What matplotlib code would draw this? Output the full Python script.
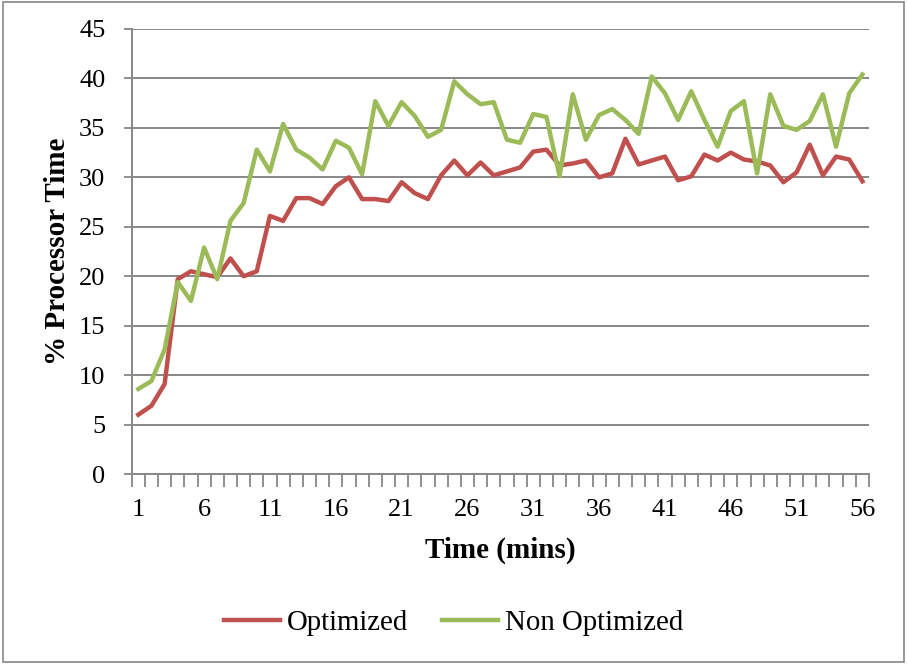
import matplotlib
matplotlib.use("Agg")
from matplotlib import pyplot as plt
from matplotlib.patches import Rectangle
import numpy as np

# minutes 1..56, % processor time per minute
minutes = list(range(1, 57))

optimized = [6.0, 6.9, 9.1, 19.7, 20.5, 20.2, 19.9, 21.8, 20.0, 20.5,
             26.1, 25.6, 27.9, 27.9, 27.3, 29.1, 30.0, 27.8, 27.8, 27.6,
             29.5, 28.4, 27.8, 30.2, 31.7, 30.2, 31.5, 30.2, 30.6, 31.0,
             32.6, 32.8, 31.2, 31.4, 31.7, 30.0, 30.4, 33.9, 31.3, 31.7,
             32.1, 29.7, 30.1, 32.3, 31.7, 32.5, 31.8, 31.6, 31.2, 29.5,
             30.5, 33.3, 30.2, 32.1, 31.8, 29.6]

non_optimized = [8.6, 9.4, 12.6, 19.4, 17.5, 22.9, 19.7, 25.6, 27.4, 32.8,
                 30.6, 35.4, 32.8, 32.0, 30.8, 33.7, 33.0, 30.3, 37.7, 35.2,
                 37.6, 36.2, 34.1, 34.8, 39.7, 38.4, 37.4, 37.6, 33.8, 33.5,
                 36.4, 36.1, 30.1, 38.4, 33.8, 36.3, 36.9, 35.8, 34.4, 40.2,
                 38.5, 35.8, 38.7, 35.8, 33.1, 36.7, 37.7, 30.4, 38.4, 35.2,
                 34.8, 35.7, 38.4, 33.1, 38.5, 40.4]

x_labels = minutes[::5]
y_ticks = list(range(0, 50, 5))

red = "#C0504D"
green = "#9BBB59"
grey = "#878787"

plt.rcParams["font.family"] = ["Liberation Serif", "DejaVu Serif"]

fig = plt.figure(figsize=(9.07, 6.65), dpi=100)
ax = fig.add_axes([0.1452, 0.2872, 0.8129, 0.6692])

ax.plot(minutes, optimized, color=red, lw=3.2, label="Optimized",
        solid_joinstyle="round", zorder=3)
ax.plot(minutes, non_optimized, color=green, lw=3.2, label="Non Optimized",
        solid_joinstyle="round", zorder=3)

ax.set_xlim(0.5, 56.5)
ax.set_ylim(0, 45)
ax.set_yticks(y_ticks)
ax.set_xticks(x_labels)
ax.set_xticks(np.arange(0.5, 57, 1), minor=True)
ax.tick_params(axis="x", which="major", length=0, pad=18, labelsize=19)
ax.tick_params(axis="x", which="minor", length=9, width=1.3, color=grey,
               direction="out")
ax.tick_params(axis="y", length=6, width=1.3, color=grey, labelsize=19, pad=13)

ax.grid(axis="y", color=grey, lw=1.4)
ax.set_axisbelow(True)
for side in ["top", "right"]:
    ax.spines[side].set_visible(False)
for side in ["left", "bottom"]:
    ax.spines[side].set_color(grey)
    ax.spines[side].set_linewidth(1.4)

ax.set_xlabel("Time (mins)", fontsize=21, fontweight="bold", labelpad=11)
ax.set_ylabel("% Processor Time", fontsize=21, fontweight="bold", labelpad=6)

fig.legend(loc="center", bbox_to_anchor=(0.5, 1 - 623 / 665), ncol=2,
           frameon=False, fontsize=20.8, handlelength=1.95, columnspacing=1.15,
           handletextpad=0.25)

# chart border
fig.patches.append(Rectangle((0.003, 0.004), 0.994, 0.993, transform=fig.transFigure,
                             fill=False, edgecolor=grey, lw=1.2))

fig.savefig("out.png", dpi=100)
